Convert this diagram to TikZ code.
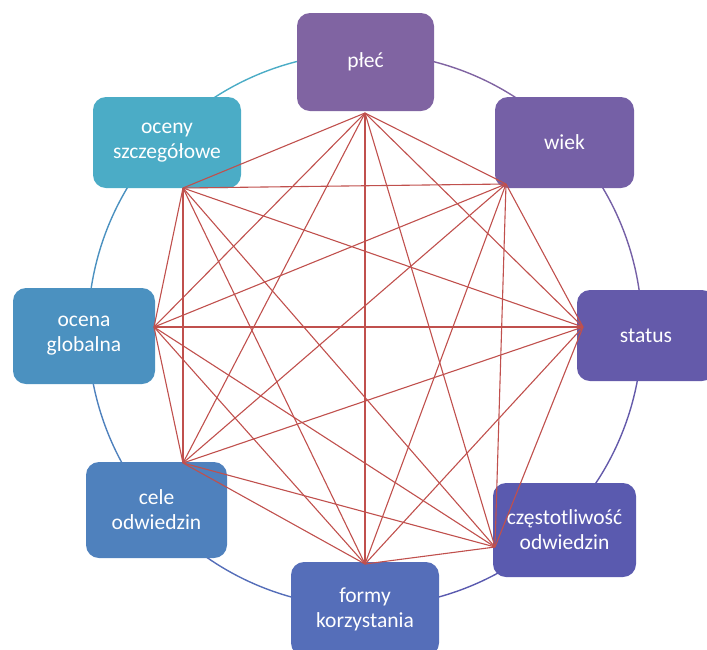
\documentclass[tikz,border=0pt]{standalone}
\usepackage{fontspec}
\setmainfont{Carlito}
\definecolor{cPlec}{HTML}{8064A2}
\definecolor{cWiek}{HTML}{7560A6}
\definecolor{cStatus}{HTML}{645AAA}
\definecolor{cCzest}{HTML}{5A5AAF}
\definecolor{cFormy}{HTML}{556EB9}
\definecolor{cCele}{HTML}{4F81BD}
\definecolor{cOcena}{HTML}{4B91C0}
\definecolor{cOceny}{HTML}{4BACC6}
\definecolor{linkred}{HTML}{C0504D}
\begin{document}
\begin{tikzpicture}[x=1pt,y=-1pt,
  box/.style={draw=none, rounded corners=13pt, text=white, align=center,
    font=\fontsize{21.5}{25}\selectfont, inner sep=0pt},
  link/.style={draw=linkred, line width=1.1pt},
  ring/.style={line width=1.4pt}]
\useasboundingbox (0,0) rectangle (707,649);
\clip (0,0) rectangle (707,649);
\coordinate (c) at (365,330);
% ring arcs
\draw[ring, cPlec]   (c) ++(90:277pt)   arc[start angle=90, end angle=43, radius=277pt];
\draw[ring, cWiek]   (c) ++(43:277pt)   arc[start angle=43, end angle=-1, radius=277pt];
\draw[ring, cStatus] (c) ++(-1:277pt)   arc[start angle=-1, end angle=-45, radius=277pt];
\draw[ring, cCzest]  (c) ++(-45:277pt)  arc[start angle=-45, end angle=-90, radius=277pt];
\draw[ring, cFormy]  (c) ++(-90:277pt)  arc[start angle=-90, end angle=-139, radius=277pt];
\draw[ring, cCele]   (c) ++(-139:277pt) arc[start angle=-139, end angle=-179, radius=277pt];
\draw[ring, cOcena]  (c) ++(-179:277pt) arc[start angle=-179, end angle=-223.5, radius=277pt];
\draw[ring, cOceny]  (c) ++(136.5:277pt) arc[start angle=136.5, end angle=90, radius=277pt];
% boxes
\node[box, fill=cPlec, minimum width=137pt, minimum height=98pt] (plec) at (365.5,62) {płeć};
\node[box, fill=cWiek, minimum width=139pt, minimum height=91pt] (wiek) at (564.5,142.5) {wiek};
\node[box, fill=cStatus, minimum width=138pt, minimum height=91pt] (status) at (646,335.5) {status};
\node[box, fill=cCzest, minimum width=143pt, minimum height=94pt] (czest) at (564.5,530) {częstotliwość\\odwiedzin};
\node[box, fill=cFormy, minimum width=148pt, minimum height=94pt] (formy) at (365,609) {formy\\korzystania};
\node[box, fill=cCele, minimum width=141pt, minimum height=96pt] (cele) at (156.5,510) {cele\\odwiedzin};
\node[box, fill=cOcena, minimum width=142pt, minimum height=96pt] (ocena) at (84,336) {ocena\\globalna};
\node[box, fill=cOceny, minimum width=148pt, minimum height=91pt] (oceny) at (167,142.5) {oceny\\szczegółowe};
% link points
\coordinate (p1) at (365,113);
\coordinate (p2) at (506,184);
\coordinate (p3) at (583,327);
\coordinate (p4) at (495,547);
\coordinate (p5) at (365,564);
\coordinate (p6) at (183,463);
\coordinate (p7) at (154,327);
\coordinate (p8) at (183,188);
\foreach \i [evaluate=\i as \k using int(\i+1)] in {1,...,7}{
  \foreach \j in {\k,...,8}{
    \draw[link] (p\i) -- (p\j);
  }
}
\end{tikzpicture}
\end{document}
